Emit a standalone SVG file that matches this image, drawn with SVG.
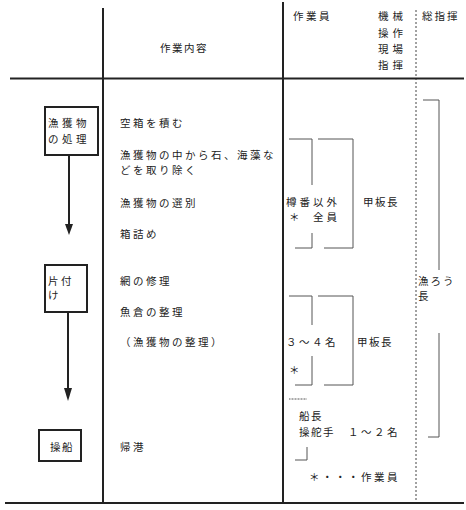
<svg xmlns="http://www.w3.org/2000/svg" width="466" height="510" viewBox="0 0 466 510">
<style>
text{font-family:"Noto Sans CJK JP","Noto Sans CJK SC",sans-serif;font-size:10.5px;fill:#222;letter-spacing:2.5px}
.h{letter-spacing:1.5px}
.main{stroke:#222;stroke-width:2;fill:none}
.br{stroke:#555;stroke-width:1;fill:none}
.box{stroke:#222;stroke-width:2;fill:#fff}
.dash{stroke:#444;stroke-width:1;stroke-dasharray:2,2;fill:none}
</style>
<rect width="466" height="510" fill="#fff"/>
<g id="grid">
<line class="main" x1="103" y1="8" x2="103" y2="503"/>
<line class="main" x1="283" y1="2" x2="283" y2="503"/>
<line class="dash" x1="416" y1="10" x2="416" y2="503"/>
<line class="main" x1="10" y1="78.5" x2="464" y2="78.5"/>
<line class="main" x1="5" y1="503" x2="464" y2="503"/>
</g>
<g id="header">
<text class="h" x="160" y="52">作業内容</text>
<text x="293" y="20">作業員</text>
<text class="h" x="378" y="20" style="letter-spacing:4px">機械</text>
<text class="h" x="378" y="37" style="letter-spacing:4px">操作</text>
<text class="h" x="378" y="53" style="letter-spacing:4px">現場</text>
<text class="h" x="378" y="69" style="letter-spacing:4px">指揮</text>
<text class="h" x="422" y="20" style="letter-spacing:2px">総指揮</text>
</g>
<g id="connectors">
<line class="main" x1="69" y1="155" x2="69" y2="226"/>
<polygon points="65,224 73,224 69,235" fill="#222"/>
<line class="main" x1="68" y1="312" x2="68" y2="390"/>
<polygon points="64,388 72,388 68,401" fill="#222"/>
</g>
<g id="node-catch">
<rect class="box" x="45" y="107" width="53" height="48"/>
<text x="48" y="127" style="letter-spacing:3.5px">漁獲物</text>
<text x="48" y="143" style="letter-spacing:3.5px">の処理</text>
</g>
<g id="node-tidy">
<rect class="box" x="45" y="265" width="42" height="47"/>
<text x="48" y="285">片付</text>
<text x="48" y="299">け</text>
</g>
<g id="node-steer">
<rect class="box" x="39" y="430" width="42" height="31"/>
<text x="50" y="451" style="letter-spacing:1.5px">操船</text>
</g>
<g id="tasks">
<text x="120" y="127">空箱を積む</text>
<text x="120" y="159">漁獲物の中から石、海藻な</text>
<text x="120" y="174">どを取り除く</text>
<text x="120" y="207">漁獲物の選別</text>
<text x="120" y="238">箱詰め</text>
<text x="120" y="285">網の修理</text>
<text x="120" y="316">魚倉の整理</text>
<text x="120" y="346">（漁獲物の整理）</text>
<text x="120" y="451">帰港</text>
</g>
<g id="staff">
<polyline class="br" points="289,139 312,139 312,185"/>
<polyline class="br" points="312,233 312,248 295,248"/>
<polyline class="br" points="318,139 353,139 353,248 324,248"/>
<text x="286" y="206" style="letter-spacing:3px">樽番以外</text>
<text x="289" y="221">＊</text>
<text x="313" y="221" style="letter-spacing:3px">全員</text>
<text x="363" y="206" style="letter-spacing:1.5px">甲板長</text>
<polyline class="br" points="289,296 312,296 312,325"/>
<polyline class="br" points="312,356 312,385 295,385"/>
<polyline class="br" points="318,296 353,296 353,385 324,385"/>
<text x="286" y="346">３～４名</text>
<text x="289" y="374">＊</text>
<text x="357" y="346" style="letter-spacing:1.5px">甲板長</text>
<line class="br" x1="289" y1="399" x2="307" y2="399" stroke-dasharray="1,0.5"/>
<text x="299" y="420" style="letter-spacing:1.5px">船長</text>
<text x="299" y="436" style="letter-spacing:1.5px">操舵手</text>
<text x="348" y="436">１～２名</text>
<polyline class="br" points="307,447 307,460 295,460"/>
<text x="309" y="481">＊・・・作業員</text>
</g>
<g id="chief">
<polyline class="br" points="423,100 439,100 439,270"/>
<polyline class="br" points="439,333 439,437 428,437"/>
<text x="418" y="285" style="letter-spacing:2px">漁ろう</text>
<text x="418" y="300">長</text>
</g>
</svg>
